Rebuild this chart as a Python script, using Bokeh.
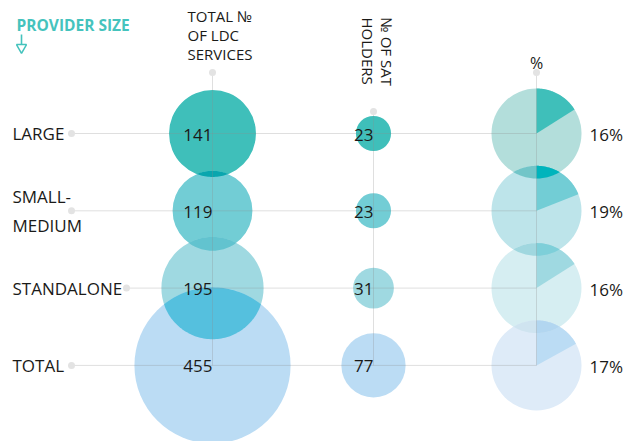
import numpy as np
from bokeh.plotting import figure
from bokeh.models import Range1d, ColumnDataSource
from bokeh.core.properties import value
from bokeh.embed import file_html
from bokeh.resources import INLINE

# ---------------- data ----------------
categories = ["LARGE", "SMALL-\nMEDIUM", "STANDALONE", "TOTAL"]
ldc_services = [141, 119, 195, 455]
sat_holders = [23, 23, 31, 77]
sat_share_pct = [16, 19, 16, 17]

title_provider = "PROVIDER SIZE"
title_total = "TOTAL №\nOF LDC\nSERVICES"
title_sat = "№ OF SAT\nHOLDERS"
title_pct = "%"

# ---------------- styles ----------------
circle_colors = ["#3fbfba", "#72cdd5", "#9fd9e1", "#bbdcf4"]
pie_bg_colors = ["#b3dedb", "#bde4ea", "#d6eef2", "#deebf8"]
circle_overlap_colors = ["#0aa6ae", "#62c3cf", "#55c0de"]
pie_overlap_bg = ["#72c5c8", "#a0d7df", "#cfe4f0"]
pie_overlap_slice = ["#00b4bc", "#7ecfd9", "#b2d6f0"]
teal = "#45c3bd"
ink = "#1a1a18"
FONT = "Open Sans"

# ---------------- layout ----------------
W, H = 624, 441
ROW_Y0, ROW_STEP = 133, 77.3
COL_X = [212, 373, 536]
K = 3.66          # px per sqrt(unit)
PIE_R = 45
row_y = [ROW_Y0 + i * ROW_STEP for i in range(len(categories))]
label_dot_x = [71, 71, 126, 71]
col_dot_y = [72, 111, 72]

p = figure(width=W, height=H, x_range=Range1d(0, W), y_range=Range1d(H, 0),
           output_backend="svg", toolbar_location=None, min_border=0,
           x_axis_location=None, y_axis_location=None)
p.grid.visible = False
p.outline_line_color = None
p.background_fill_color = "white"


def circle_poly(cx, cy, r, n=180):
    t = np.linspace(0, 2 * np.pi, n, endpoint=False)
    return list(zip(cx + r * np.cos(t), cy + r * np.sin(t)))


def wedge_poly(cx, cy, r, frac, n=80):
    th = np.linspace(0, frac * 2 * np.pi, n)
    return [(cx, cy)] + list(zip(cx + r * np.sin(th), cy - r * np.cos(th)))


def signed_area(poly):
    a = 0.0
    for i in range(len(poly)):
        x1, y1 = poly[i - 1]
        x2, y2 = poly[i]
        a += x1 * y2 - x2 * y1
    return a / 2


def clip(subject, clipper):
    sgn = 1 if signed_area(clipper) >= 0 else -1

    def inside(pt, a, b):
        return sgn * ((b[0] - a[0]) * (pt[1] - a[1]) - (b[1] - a[1]) * (pt[0] - a[0])) >= 0

    def inter(s, e, a, b):
        x1, y1 = s; x2, y2 = e; x3, y3 = a; x4, y4 = b
        d = (x1 - x2) * (y3 - y4) - (y1 - y2) * (x3 - x4)
        if abs(d) < 1e-12:
            return e
        t = ((x1 - x3) * (y3 - y4) - (y1 - y3) * (x3 - x4)) / d
        return (x1 + t * (x2 - x1), y1 + t * (y2 - y1))

    out = list(subject)
    for i in range(len(clipper)):
        a, b = clipper[i - 1], clipper[i]
        inp, out = out, []
        if not inp:
            break
        s = inp[-1]
        for e in inp:
            if inside(e, a, b):
                if not inside(s, a, b):
                    out.append(inter(s, e, a, b))
                out.append(e)
            elif inside(s, a, b):
                out.append(inter(s, e, a, b))
            s = e
    return out


def add_patches(polys, colors):
    xs, ys, cs = [], [], []
    for poly, c in zip(polys, colors):
        if len(poly) > 2:
            xs.append([q[0] for q in poly]); ys.append([q[1] for q in poly]); cs.append(c)
    if xs:
        p.patches(xs=xs, ys=ys, fill_color=cs, line_color=None)


# ---- column 1: total LDC services ----
r_ldc = [K * np.sqrt(v) for v in ldc_services]
p.circle(x=[COL_X[0]] * 4, y=row_y, radius=r_ldc, fill_color=circle_colors, line_color=None)
lens = [clip(circle_poly(COL_X[0], row_y[i], r_ldc[i]), circle_poly(COL_X[0], row_y[i + 1], r_ldc[i + 1]))
        for i in range(3)]
add_patches(lens, circle_overlap_colors)

# ---- column 2: SAT holders ----
r_sat = [K * np.sqrt(v) for v in sat_holders]
p.circle(x=[COL_X[1]] * 4, y=row_y, radius=r_sat, fill_color=circle_colors, line_color=None)

# ---- column 3: pies ----
p.circle(x=[COL_X[2]] * 4, y=row_y, radius=PIE_R, fill_color=pie_bg_colors, line_color=None)
slices = [wedge_poly(COL_X[2], row_y[i], PIE_R, sat_share_pct[i] / 100) for i in range(4)]
add_patches(slices, circle_colors)
pie_lens = [clip(circle_poly(COL_X[2], row_y[i], PIE_R), circle_poly(COL_X[2], row_y[i + 1], PIE_R))
            for i in range(3)]
add_patches(pie_lens, pie_overlap_bg)
add_patches([clip(pie_lens[i], slices[i + 1]) for i in range(3)], pie_overlap_slice)

# ---- guide lines ----
line_col, line_alpha = "#8c8c8c", 0.28
p.segment(x0=label_dot_x, y0=row_y, x1=[COL_X[2]] * 4, y1=row_y,
          line_color=line_col, line_alpha=line_alpha, line_width=1)
p.segment(x0=COL_X, y0=col_dot_y, x1=COL_X, y1=[row_y[-1]] * 3,
          line_color=line_col, line_alpha=line_alpha, line_width=1)
p.scatter(x=label_dot_x + COL_X, y=row_y + col_dot_y, size=7, marker="circle",
          fill_color="#e3e3e3", line_color=None)

# ---- provider size header & arrow ----
p.text(x=[16], y=[24], text=[title_provider], text_font=value(FONT), text_font_size="15.5px",
       text_font_style="bold", text_color=teal, text_align="left", text_baseline="alphabetic")
p.segment(x0=[21], y0=[34], x1=[21], y1=[44], line_color=teal, line_width=1.6)
p.scatter(x=[21], y=[47], marker="inverted_triangle", size=10, fill_color=None,
          line_color=teal, line_width=1.5)

# ---- column headers ----
p.text(x=[187], y=[5], text=[title_total], text_font=value(FONT), text_font_size="15px",
       text_color=ink, text_align="left", text_baseline="top", text_line_height=0.95)
p.text(x=[396], y=[17], text=[title_sat], angle=-np.pi / 2, text_font=value(FONT),
       text_font_size="15px", text_color=ink, text_align="left", text_baseline="top",
       text_line_height=0.95)
p.text(x=[COL_X[2]], y=[62], text=[title_pct], text_font=value(FONT), text_font_size="16px",
       text_color=ink, text_align="center", text_baseline="alphabetic")

# ---- row labels ----
src = ColumnDataSource(dict(cat=categories, y=row_y,
                            ldc=[str(v) for v in ldc_services],
                            sat=[str(v) for v in sat_holders],
                            pct=[f"{v}%" for v in sat_share_pct]))
p.text(x=12, y="y", text="cat", source=src, text_font=value(FONT), text_font_size="17px",
       text_color=ink, text_align="left", text_baseline="middle", text_line_height=1.24)
p.text(x=COL_X[0], y="y", text="ldc", source=src, text_font=value(FONT), text_font_size="17px",
       text_color=ink, text_align="right", text_baseline="middle", y_offset=1)
p.text(x=COL_X[1], y="y", text="sat", source=src, text_font=value(FONT), text_font_size="17px",
       text_color=ink, text_align="right", text_baseline="middle", y_offset=1)
p.text(x=589, y="y", text="pct", source=src, text_font=value(FONT), text_font_size="17px",
       text_color=ink, text_align="left", text_baseline="middle", y_offset=1)

open("out.html", "w").write(file_html(p, INLINE))
